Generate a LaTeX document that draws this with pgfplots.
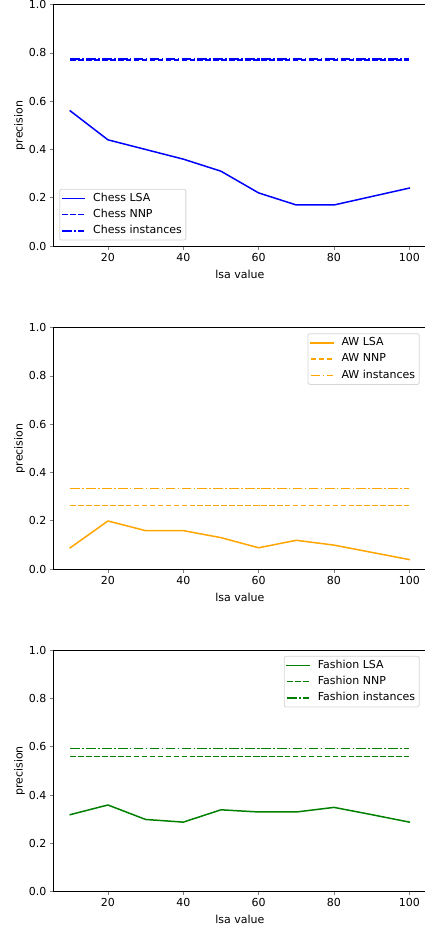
\documentclass[border=0pt]{standalone}
\usepackage{fontspec}
\setmainfont{DejaVu Sans}
\usepackage{pgfplots}
\pgfplotsset{compat=1.18}
\definecolor{mplblue}{RGB}{0,0,255}
\definecolor{mplorange}{RGB}{255,165,0}
\definecolor{mplgreen}{RGB}{0,128,0}
\definecolor{legborder}{RGB}{214,214,214}
\pgfplotsset{
  myaxis/.style={
    width=373pt, height=241.3pt, scale only axis,
    xmin=5.5, xmax=104.5, ymin=0, ymax=1,
    xtick={20,40,60,80,100},
    ytick={0,0.2,0.4,0.6,0.8,1.0},
    yticklabel style={/pgf/number format/.cd, fixed, fixed zerofill, precision=1},
    /pgf/number format/assume math mode=true,
    tick label style={font=\fontsize{11}{13}\selectfont},
    label style={font=\fontsize{11}{13}\selectfont},
    tick align=outside, major tick length=3.5pt,
    tick style={line width=0.8pt},
    xtick pos=bottom, ytick pos=left,
    axis line style={line width=0.8pt},
    xlabel={lsa value}, ylabel={precision},
    xlabel style={at={(axis description cs:0.5,-0.116)}, anchor=center},
    ylabel style={at={(axis description cs:-0.0906,0.5)}, anchor=center},
    legend cell align=left,
    legend image code/.code={\draw[#1] (0pt,0pt) -- (22pt,0pt);},
    legend style={draw=legborder, line width=0.8pt, rounded corners=2pt, fill=white,
      font=\fontsize{11}{13}\selectfont, row sep=2.1pt, column sep=6pt, inner sep=2pt,
      nodes={inner sep=2pt, text height=8pt, text depth=2.2pt}},
    every axis plot/.append style={line width=1.5pt},
  },
  lsa/.style={solid, line join=round, line cap=rect},
  nnp/.style={dash pattern=on 5.55pt off 2.4pt},
  inst/.style={dash pattern=on 9.6pt off 2.4pt on 1.5pt off 2.4pt},
}
\begin{document}
\begin{tikzpicture}
\begin{axis}[myaxis, name=ax1, at={(0,0)}, anchor=north west,
  legend style={at={(axis description cs:0.016,0.023)}, anchor=south west}]
\addplot[mplblue, lsa] coordinates {(10,0.56)(20,0.44)(30,0.40)(40,0.36)(50,0.31)(60,0.22)(70,0.17)(80,0.17)(90,0.205)(100,0.24)};
\addlegendentry{Chess LSA}
\addplot[mplblue, nnp] coordinates {(10,0.770)(20,0.770)(30,0.770)(40,0.770)(50,0.770)(60,0.770)(70,0.770)(80,0.770)(90,0.770)(100,0.770)};
\addlegendentry{Chess NNP}
\addplot[mplblue, inst] coordinates {(10,0.775)(20,0.775)(30,0.775)(40,0.775)(50,0.775)(60,0.775)(70,0.775)(80,0.775)(90,0.775)(100,0.775)};
\addlegendentry{Chess instances}
\end{axis}
\begin{axis}[myaxis, name=ax2, at={(0,-323pt)}, anchor=north west,
  legend style={at={(axis description cs:0.982,0.977)}, anchor=north east}]
\addplot[mplorange, lsa] coordinates {(10,0.088)(20,0.199)(30,0.159)(40,0.159)(50,0.130)(60,0.088)(70,0.119)(80,0.099)(90,0.069)(100,0.039)};
\addlegendentry{AW LSA}
\addplot[mplorange, nnp] coordinates {(10,0.264)(20,0.264)(30,0.264)(40,0.264)(50,0.264)(60,0.264)(70,0.264)(80,0.264)(90,0.264)(100,0.264)};
\addlegendentry{AW NNP}
\addplot[mplorange, inst] coordinates {(10,0.334)(20,0.334)(30,0.334)(40,0.334)(50,0.334)(60,0.334)(70,0.334)(80,0.334)(90,0.334)(100,0.334)};
\addlegendentry{AW instances}
\end{axis}
\begin{axis}[myaxis, name=ax3, at={(0,-645.6pt)}, anchor=north west,
  legend style={at={(axis description cs:0.982,0.977)}, anchor=north east}]
\addplot[mplgreen, lsa] coordinates {(10,0.319)(20,0.359)(30,0.299)(40,0.288)(50,0.339)(60,0.330)(70,0.330)(80,0.349)(90,0.319)(100,0.288)};
\addlegendentry{Fashion LSA}
\addplot[mplgreen, nnp] coordinates {(10,0.560)(20,0.560)(30,0.560)(40,0.560)(50,0.560)(60,0.560)(70,0.560)(80,0.560)(90,0.560)(100,0.560)};
\addlegendentry{Fashion NNP}
\addplot[mplgreen, inst] coordinates {(10,0.594)(20,0.594)(30,0.594)(40,0.594)(50,0.594)(60,0.594)(70,0.594)(80,0.594)(90,0.594)(100,0.594)};
\addlegendentry{Fashion instances}
\end{axis}
\pgfresetboundingbox
\path[use as bounding box] ([shift={(-53.3pt,4.7pt)}]ax1.north west) rectangle ([shift={(371.7pt,-36.4pt)}]ax3.south west);
\end{tikzpicture}
\end{document}
